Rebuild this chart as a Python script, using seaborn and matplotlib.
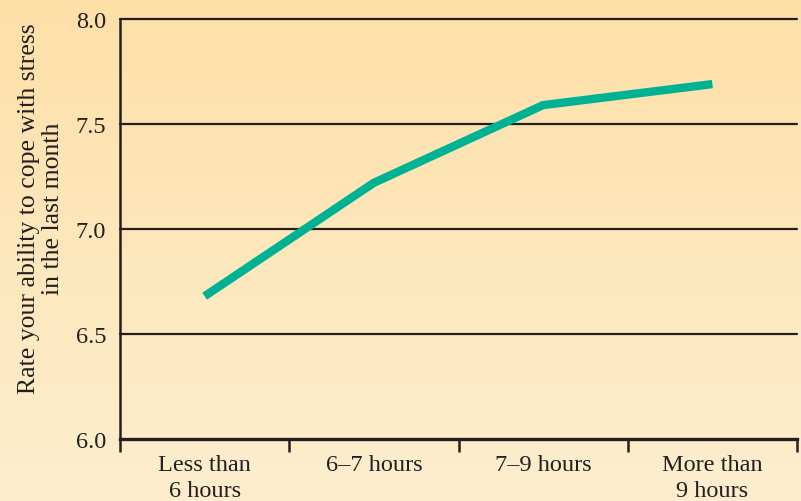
import numpy as np
import pandas as pd
import seaborn as sns
import matplotlib.pyplot as plt
from matplotlib.colors import LinearSegmentedColormap

# data
sleep_groups = ['Less than\n6 hours', '6\u20137 hours', '7\u20139 hours', 'More than\n9 hours']
coping_scores = [6.68, 7.22, 7.59, 7.69]
y_ticks = [6.0, 6.5, 7.0, 7.5, 8.0]

df = pd.DataFrame({'group': sleep_groups, 'score': coping_scores})

sns.set_theme(style='white')
plt.rcParams['font.family'] = ['Liberation Serif', 'DejaVu Serif']

ink = '#231f20'
fig = plt.figure(figsize=(8.01, 5.02), dpi=100)

# warm vertical gradient behind everything
bg = fig.add_axes([0, 0, 1, 1], zorder=-1)
grad = LinearSegmentedColormap.from_list('bg', ['#fde0a8', '#feeecf'])
bg.imshow(np.linspace(0, 1, 256).reshape(-1, 1), aspect='auto', cmap=grad,
          extent=[0, 1, 0, 1])
bg.axis('off')

ax = fig.add_axes([120 / 801, 62 / 502, 677 / 801, 420 / 502])
ax.set_facecolor('none')

sns.lineplot(data=df, x='group', y='score', ax=ax, color='#00b294',
             linewidth=6, sort=False, solid_capstyle='butt',
             solid_joinstyle='miter', zorder=3)

ax.set_xlim(-0.5, 3.5)
ax.set_ylim(6.0, 8.0)
ax.set_yticks(y_ticks)
ax.set_yticklabels([f'{v:.1f}' for v in y_ticks])
for v in y_ticks[1:]:
    ax.axhline(v, color=ink, linewidth=1.6, zorder=2, clip_on=False)

fs = 17.5
ax.set_xticks(range(len(sleep_groups)))
ax.set_xticklabels(sleep_groups, linespacing=1.3)
ax.set_xticks(np.arange(-0.5, 4.0, 1.0), minor=True)
ax.tick_params(axis='x', which='major', length=0, pad=11, labelsize=fs, colors=ink)
ax.tick_params(axis='x', which='minor', length=9, width=1.8, color=ink,
               direction='out', bottom=True)
ax.tick_params(axis='y', length=0, pad=10, labelsize=fs, colors=ink)

ax.set_xlabel('')
ax.set_ylabel('Rate your ability to cope with stress\nin the last month',
              fontsize=18.5, color=ink, linespacing=1.1)
ax.yaxis.set_label_coords(-0.083, 0.55)

for side in ['top', 'right']:
    ax.spines[side].set_visible(False)
ax.spines['left'].set_color(ink)
ax.spines['left'].set_linewidth(1.8)
ax.spines['bottom'].set_color(ink)
ax.spines['bottom'].set_linewidth(2.4)

fig.savefig('out.png', dpi=100)
